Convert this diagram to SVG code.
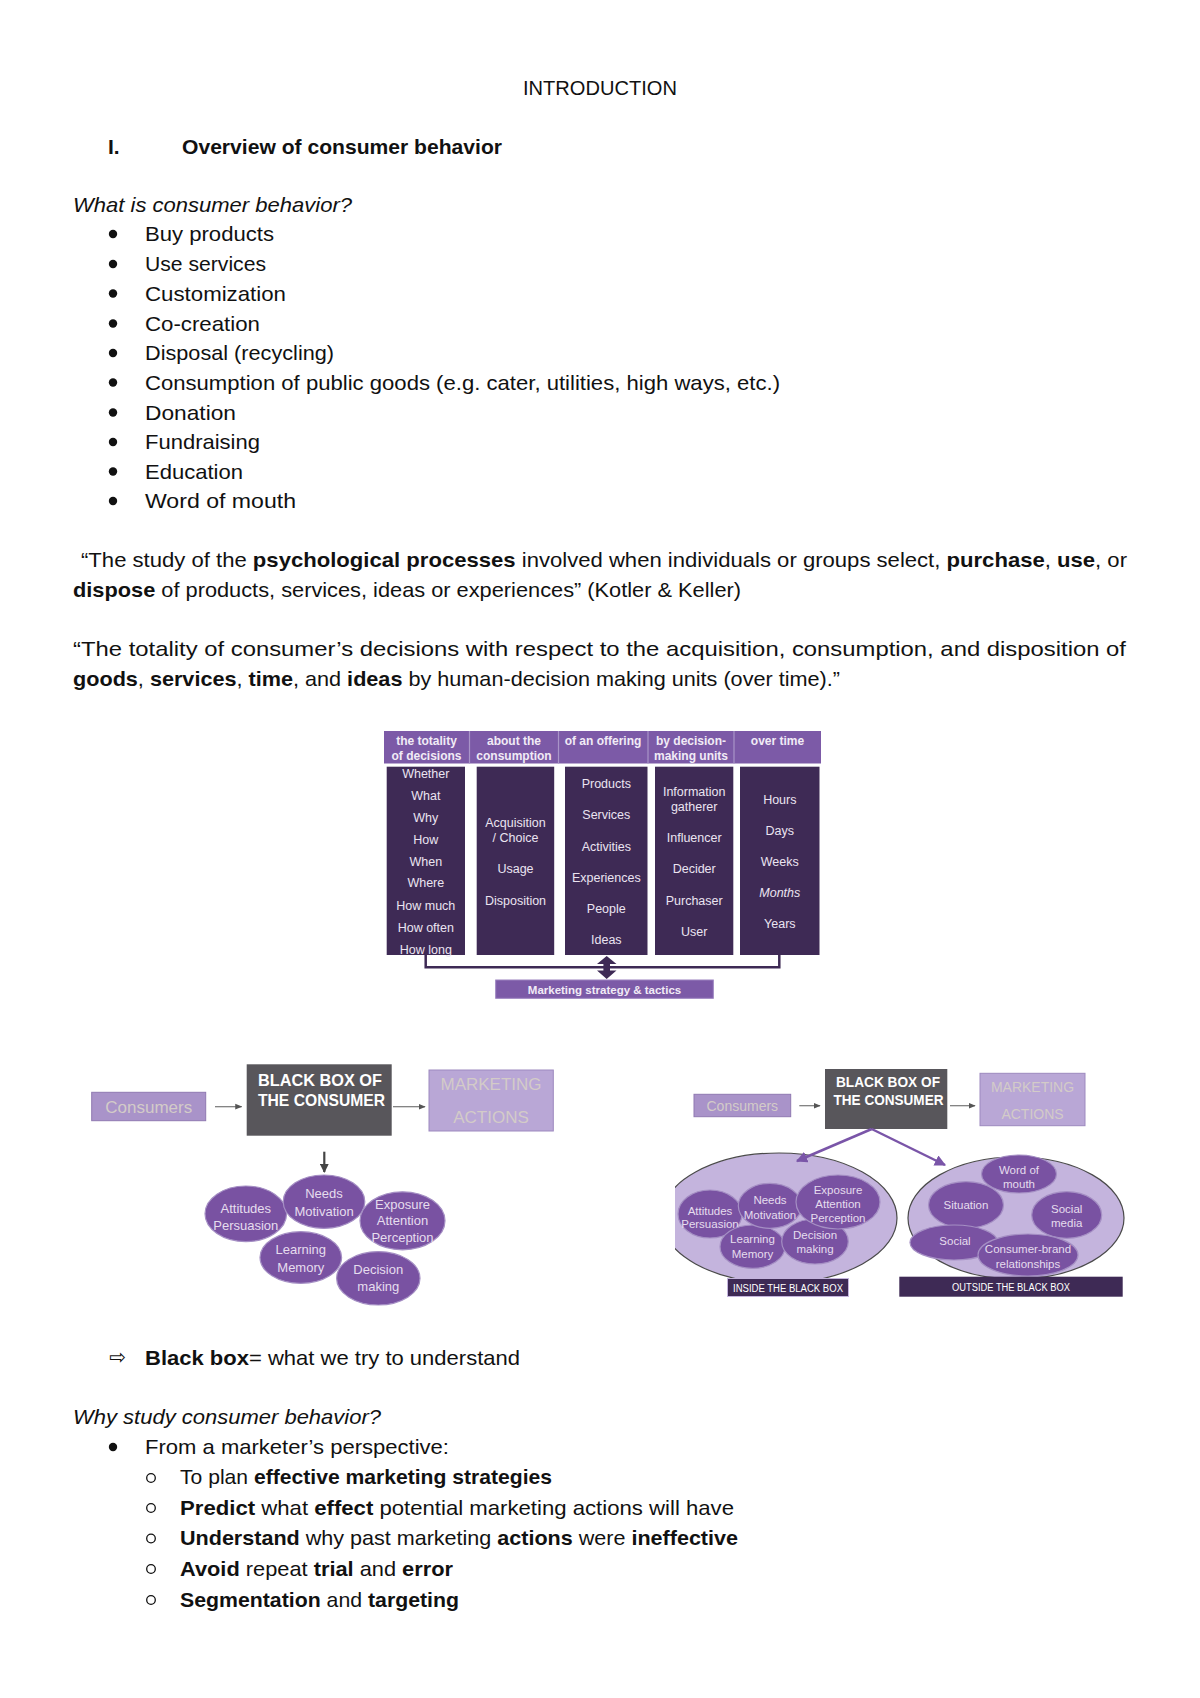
<svg xmlns="http://www.w3.org/2000/svg" width="1200" height="1698" viewBox="0 0 1200 1698">
<style>
.t{font-family:"Liberation Sans",Arial,sans-serif;font-size:21px;fill:#111}
.b{font-weight:bold}
.i{font-style:italic}
.hd{font-family:"Liberation Sans",Arial,sans-serif;font-size:12px;fill:#f1ebf6;text-anchor:middle;font-weight:bold}
.ct{font-family:"Liberation Sans",Arial,sans-serif;font-size:12.5px;fill:#ebe4f1;text-anchor:middle}
.col{fill:#3e2a55}
.hdr{fill:#7c5aa7}
.lav{fill:#a993c9;stroke:#8f79b1;stroke-width:1}
.lav2{fill:#b9a7d6;stroke:#9d89bf;stroke-width:1}
.lt{font-family:"Liberation Sans",Arial,sans-serif;fill:#d3cbc8;text-anchor:middle}
.bb{fill:#58565b}
.bt{font-family:"Liberation Sans",Arial,sans-serif;fill:#fff;font-weight:bold}
.el{fill:#7952a2;stroke:#a58fc4;stroke-width:1.2}
.et{font-family:"Liberation Sans",Arial,sans-serif;fill:#e6ddee;text-anchor:middle}
.big{fill:#c4b4dd;stroke:#4a4a4a;stroke-width:1.2}
.gar{stroke:#777;stroke-width:1.2;fill:none}
</style>
<defs>
<marker id="ga" viewBox="0 0 10 10" refX="9" refY="5" markerWidth="6" markerHeight="6" orient="auto"><path d="M0,1 L10,5 L0,9 z" fill="#555"/></marker>
<marker id="da" viewBox="0 0 10 10" refX="9" refY="5" markerWidth="4" markerHeight="4" orient="auto"><path d="M0,0 L10,5 L0,10 z" fill="#444"/></marker>
<marker id="pa" viewBox="0 0 10 10" refX="9" refY="5" markerWidth="4.5" markerHeight="4.5" orient="auto"><path d="M0,0 L10,5 L0,10 z" fill="#7a55a8"/></marker>
<clipPath id="clipL"><rect x="675" y="1100" width="400" height="220"/></clipPath>
</defs>
<rect width="1200" height="1698" fill="#fff"/>

<g id="heading">
<text class="t" x="523" y="95" textLength="154" lengthAdjust="spacingAndGlyphs">INTRODUCTION</text>
<text class="t b" x="108" y="154">I.</text>
<text class="t b" x="182" y="154" textLength="320" lengthAdjust="spacingAndGlyphs">Overview of consumer behavior</text>
<text class="t i" x="73" y="212" textLength="279" lengthAdjust="spacingAndGlyphs">What is consumer behavior?</text>
</g>

<g id="list1">
<g fill="#111">
<circle cx="113" cy="234" r="4.2"/><circle cx="113" cy="264" r="4.2"/><circle cx="113" cy="293.5" r="4.2"/><circle cx="113" cy="323.5" r="4.2"/><circle cx="113" cy="353" r="4.2"/><circle cx="113" cy="382.5" r="4.2"/><circle cx="113" cy="412.5" r="4.2"/><circle cx="113" cy="442" r="4.2"/><circle cx="113" cy="471.5" r="4.2"/><circle cx="113" cy="501" r="4.2"/>
</g>
<text class="t" x="145" y="241" textLength="129" lengthAdjust="spacingAndGlyphs">Buy products</text>
<text class="t" x="145" y="271" textLength="121" lengthAdjust="spacingAndGlyphs">Use services</text>
<text class="t" x="145" y="300.5" textLength="141" lengthAdjust="spacingAndGlyphs">Customization</text>
<text class="t" x="145" y="330.5" textLength="115" lengthAdjust="spacingAndGlyphs">Co-creation</text>
<text class="t" x="145" y="360" textLength="189" lengthAdjust="spacingAndGlyphs">Disposal (recycling)</text>
<text class="t" x="145" y="389.5" textLength="635" lengthAdjust="spacingAndGlyphs">Consumption of public goods (e.g. cater, utilities, high ways, etc.)</text>
<text class="t" x="145" y="419.5" textLength="91" lengthAdjust="spacingAndGlyphs">Donation</text>
<text class="t" x="145" y="449" textLength="115" lengthAdjust="spacingAndGlyphs">Fundraising</text>
<text class="t" x="145" y="478.5" textLength="98" lengthAdjust="spacingAndGlyphs">Education</text>
<text class="t" x="145" y="508" textLength="151" lengthAdjust="spacingAndGlyphs">Word of mouth</text>
</g>

<g id="definitions">
<text class="t" x="81" y="567" textLength="1046" lengthAdjust="spacingAndGlyphs">“The study of the <tspan class="b">psychological processes</tspan> involved when individuals or groups select, <tspan class="b">purchase</tspan>, <tspan class="b">use</tspan>, or</text>
<text class="t" x="73" y="597" textLength="668" lengthAdjust="spacingAndGlyphs"><tspan class="b">dispose</tspan> of products, services, ideas or experiences” (Kotler &amp; Keller)</text>
<text class="t" x="73" y="656" textLength="1053" lengthAdjust="spacingAndGlyphs">“The totality of consumer’s decisions with respect to the acquisition, consumption, and disposition of</text>
<text class="t" x="73" y="686" textLength="767" lengthAdjust="spacingAndGlyphs"><tspan class="b">goods</tspan>, <tspan class="b">services</tspan>, <tspan class="b">time</tspan>, and <tspan class="b">ideas</tspan> by human-decision making units (over time).”</text>
</g>

<g id="table-diagram">
<g id="header">
<rect class="hdr" x="384" y="731" width="437" height="32.5"/>
<g stroke="#a994c8" stroke-width="1.2">
<line x1="469.5" y1="731" x2="469.5" y2="763.5"/><line x1="558.5" y1="731" x2="558.5" y2="763.5"/><line x1="648" y1="731" x2="648" y2="763.5"/><line x1="734" y1="731" x2="734" y2="763.5"/>
</g>
<text class="hd" x="426.5" y="745">the totality</text><text class="hd" x="426.5" y="760">of decisions</text>
<text class="hd" x="514" y="745">about the</text><text class="hd" x="514" y="760">consumption</text>
<text class="hd" x="603" y="745">of an offering</text>
<text class="hd" x="691" y="745">by decision-</text><text class="hd" x="691" y="760">making units</text>
<text class="hd" x="777.5" y="745">over time</text>
</g>
<g id="col-decisions">
<rect class="col" x="386.7" y="766.7" width="78.3" height="188.3"/>
<text class="ct" x="425.8" y="778">Whether</text><text class="ct" x="425.8" y="799.5">What</text><text class="ct" x="425.8" y="822">Why</text><text class="ct" x="425.8" y="843.5">How</text><text class="ct" x="425.8" y="865.5">When</text><text class="ct" x="425.8" y="887">Where</text><text class="ct" x="425.8" y="909.5">How much</text><text class="ct" x="425.8" y="931.5">How often</text><text class="ct" x="425.8" y="954">How long</text>
</g>
<g id="col-consumption">
<rect class="col" x="476.7" y="766.7" width="77.5" height="188.3"/>
<text class="ct" x="515.5" y="826.5">Acquisition</text><text class="ct" x="515.5" y="841.5">/ Choice</text><text class="ct" x="515.5" y="873">Usage</text><text class="ct" x="515.5" y="904.5">Disposition</text>
</g>
<g id="col-offering">
<rect class="col" x="565" y="766.7" width="82.5" height="188.3"/>
<text class="ct" x="606.3" y="787.5">Products</text><text class="ct" x="606.3" y="819">Services</text><text class="ct" x="606.3" y="850.5">Activities</text><text class="ct" x="606.3" y="881.5">Experiences</text><text class="ct" x="606.3" y="912.5">People</text><text class="ct" x="606.3" y="943.5">Ideas</text>
</g>
<g id="col-units">
<rect class="col" x="655" y="766.7" width="78.3" height="188.3"/>
<text class="ct" x="694.2" y="796">Information</text><text class="ct" x="694.2" y="811">gatherer</text><text class="ct" x="694.2" y="842">Influencer</text><text class="ct" x="694.2" y="873">Decider</text><text class="ct" x="694.2" y="904.5">Purchaser</text><text class="ct" x="694.2" y="935.5">User</text>
</g>
<g id="col-time">
<rect class="col" x="740" y="766.7" width="79.5" height="188.3"/>
<text class="ct" x="779.8" y="803.5">Hours</text><text class="ct" x="779.8" y="835">Days</text><text class="ct" x="779.8" y="865.5">Weeks</text><text class="ct" x="779.8" y="896.5" font-style="italic">Months</text><text class="ct" x="779.8" y="928">Years</text>
</g>
<g id="marketing-strategy">
<rect x="495.7" y="980" width="217.6" height="18.3" fill="#7c5aa7" stroke="#9b82c0" stroke-width="1"/>
<text x="604.5" y="993.5" font-family="Liberation Sans, Arial, sans-serif" font-size="11.5" font-weight="bold" fill="#f1ebf6" text-anchor="middle">Marketing strategy &amp; tactics</text>
</g>
<g id="table-connectors">
<polyline points="425.7,955 425.7,967.3 779.3,967.3 779.3,955" fill="none" stroke="#3e2a55" stroke-width="2.5"/>
<polygon points="606.7,956 616.5,964 610,964 610,970.5 616.5,970.5 606.7,979 597,970.5 603.4,970.5 603.4,964 597,964" fill="#3e2a55"/>
</g>
</g>

<g id="blackbox-left">
<g id="bl-consumers"><rect class="lav" x="91.7" y="1092.3" width="114" height="28.4"/><text class="lt" x="148.7" y="1112.5" font-size="17">Consumers</text></g>
<g id="bl-box"><rect class="bb" x="246.7" y="1064.3" width="145" height="71.4"/><text class="bt" x="258" y="1086" font-size="16.5" textLength="124" lengthAdjust="spacingAndGlyphs">BLACK BOX OF</text><text class="bt" x="258" y="1106" font-size="16.5" textLength="127" lengthAdjust="spacingAndGlyphs">THE CONSUMER</text></g>
<g id="bl-actions"><rect class="lav2" x="429" y="1070" width="124.3" height="61"/><text class="lt" x="491" y="1090" font-size="17">MARKETING</text><text class="lt" x="491" y="1122.5" font-size="17">ACTIONS</text></g>
<g id="bl-attitudes"><ellipse class="el" cx="245.8" cy="1213.8" rx="40.8" ry="27.8"/><text class="et" x="245.8" y="1213" font-size="13">Attitudes</text><text class="et" x="245.8" y="1229.5" font-size="13">Persuasion</text></g>
<g id="bl-needs"><ellipse class="el" cx="324" cy="1201.7" rx="40.8" ry="26.7"/><text class="et" x="324" y="1197.5" font-size="13">Needs</text><text class="et" x="324" y="1216" font-size="13">Motivation</text></g>
<g id="bl-exposure"><ellipse class="el" cx="402.5" cy="1220.8" rx="42.5" ry="29"/><text class="et" x="402.5" y="1208.5" font-size="13">Exposure</text><text class="et" x="402.5" y="1225" font-size="13">Attention</text><text class="et" x="402.5" y="1241.5" font-size="13">Perception</text></g>
<g id="bl-learning"><ellipse class="el" cx="300.8" cy="1257.5" rx="40.8" ry="25.8"/><text class="et" x="300.8" y="1253.5" font-size="13">Learning</text><text class="et" x="300.8" y="1271.5" font-size="13">Memory</text></g>
<g id="bl-decision"><ellipse class="el" cx="378.3" cy="1278.3" rx="41.7" ry="26.7"/><text class="et" x="378.3" y="1273.5" font-size="13">Decision</text><text class="et" x="378.3" y="1290.5" font-size="13">making</text></g>
</g>

<g id="blackbox-right">
<g id="br-consumers"><rect class="lav" x="694" y="1094.3" width="96.7" height="22.4"/><text class="lt" x="742.3" y="1110.5" font-size="14">Consumers</text></g>
<g id="br-box"><rect class="bb" x="825" y="1069" width="122.3" height="60"/><text class="bt" x="836" y="1087" font-size="14" textLength="104" lengthAdjust="spacingAndGlyphs">BLACK BOX OF</text><text class="bt" x="833.5" y="1105" font-size="14" textLength="110" lengthAdjust="spacingAndGlyphs">THE CONSUMER</text></g>
<g id="br-actions"><rect class="lav2" x="980" y="1073.3" width="105" height="52.4"/><text class="lt" x="1032.5" y="1091.5" font-size="14">MARKETING</text><text class="lt" x="1032.5" y="1119" font-size="14">ACTIONS</text></g>
<g id="br-inside">
<ellipse class="big" cx="779" cy="1218" rx="118" ry="65" clip-path="url(#clipL)"/>
<g id="br-attitudes"><ellipse class="el" cx="710" cy="1214" rx="32" ry="24"/><text class="et" x="710" y="1215" font-size="11.5">Attitudes</text><text class="et" x="710" y="1227.5" font-size="11.5">Persuasion</text></g>
<g id="br-learning"><ellipse class="el" cx="752.5" cy="1246.7" rx="32.5" ry="21.7"/><text class="et" x="752.5" y="1243" font-size="11.5">Learning</text><text class="et" x="752.5" y="1257.5" font-size="11.5">Memory</text></g>
<g id="br-needs"><ellipse class="el" cx="770" cy="1205.8" rx="31.7" ry="22.5"/><text class="et" x="770" y="1204" font-size="11.5">Needs</text><text class="et" x="770" y="1218.5" font-size="11.5">Motivation</text></g>
<g id="br-decision"><ellipse class="el" cx="815" cy="1241.5" rx="33.3" ry="22.5"/><text class="et" x="815" y="1238.5" font-size="11.5">Decision</text><text class="et" x="815" y="1253" font-size="11.5">making</text></g>
<g id="br-exposure"><ellipse class="el" cx="838" cy="1202" rx="42" ry="27"/><text class="et" x="838" y="1194" font-size="11.5">Exposure</text><text class="et" x="838" y="1207.5" font-size="11.5">Attention</text><text class="et" x="838" y="1222" font-size="11.5">Perception</text></g>
<g id="br-inside-label"><rect x="727.5" y="1278.5" width="121" height="18" fill="#3e2a55" stroke="#c4b4dd" stroke-width="1"/><text x="788" y="1292" font-family="Liberation Sans, Arial, sans-serif" font-size="10" fill="#fff" text-anchor="middle" textLength="110" lengthAdjust="spacingAndGlyphs">INSIDE THE BLACK BOX</text></g>
</g>
<g id="br-outside">
<ellipse class="big" cx="1016" cy="1218" rx="108" ry="61"/>
<g id="br-wom"><ellipse class="el" cx="1019" cy="1174" rx="37.5" ry="19"/><text class="et" x="1019" y="1173.5" font-size="11.5">Word of</text><text class="et" x="1019" y="1187.5" font-size="11.5">mouth</text></g>
<g id="br-situation"><ellipse class="el" cx="966" cy="1205" rx="37.5" ry="23.3"/><text class="et" x="966" y="1209" font-size="11.5">Situation</text></g>
<g id="br-socialmedia"><ellipse class="el" cx="1066.7" cy="1215" rx="35" ry="23.3"/><text class="et" x="1066.7" y="1213" font-size="11.5">Social</text><text class="et" x="1066.7" y="1226.5" font-size="11.5">media</text></g>
<g id="br-social"><ellipse class="el" cx="954" cy="1242.5" rx="44" ry="17.5"/><text class="et" x="955" y="1244.5" font-size="11.5">Social</text></g>
<g id="br-cbr"><ellipse class="el" cx="1028" cy="1255" rx="50" ry="21"/><text class="et" x="1028" y="1252.5" font-size="11.5">Consumer-brand</text><text class="et" x="1028" y="1267.5" font-size="11.5">relationships</text></g>
<g id="br-outside-label"><rect x="899.3" y="1276.7" width="223.4" height="20" fill="#3e2a55"/><text x="1011" y="1291" font-family="Liberation Sans, Arial, sans-serif" font-size="10" fill="#fff" text-anchor="middle" textLength="118" lengthAdjust="spacingAndGlyphs">OUTSIDE THE BLACK BOX</text></g>
</g>
</g>

<g id="connectors">
<line class="gar" x1="215" y1="1106.7" x2="241.7" y2="1106.7" marker-end="url(#ga)"/>
<line class="gar" x1="393" y1="1106.7" x2="425" y2="1106.7" marker-end="url(#ga)"/>
<line x1="324.3" y1="1151.7" x2="324.3" y2="1172" stroke="#444" stroke-width="2.2" marker-end="url(#da)"/>
<line class="gar" x1="799.3" y1="1105.7" x2="820" y2="1105.7" marker-end="url(#ga)"/>
<line class="gar" x1="950" y1="1105.7" x2="975" y2="1105.7" marker-end="url(#ga)"/>
<line x1="871.7" y1="1129" x2="797" y2="1161" stroke="#7a55a8" stroke-width="2.5" marker-end="url(#pa)"/>
<line x1="871.7" y1="1129" x2="945" y2="1165" stroke="#7a55a8" stroke-width="2.5" marker-end="url(#pa)"/>
</g>

<g id="bottom-text">
<text x="109" y="1364" font-family="DejaVu Sans, sans-serif" font-size="20" fill="#111">⇨</text>
<text class="t" x="145" y="1365" textLength="375" lengthAdjust="spacingAndGlyphs"><tspan class="b">Black box</tspan>= what we try to understand</text>
<text class="t i" x="73" y="1424" textLength="308" lengthAdjust="spacingAndGlyphs">Why study consumer behavior?</text>
<circle cx="113" cy="1447" r="4.2" fill="#111"/>
<text class="t" x="145" y="1454" textLength="304" lengthAdjust="spacingAndGlyphs">From a marketer’s perspective:</text>
<g fill="none" stroke="#111" stroke-width="1.3">
<circle cx="151" cy="1478" r="4.3"/><circle cx="151" cy="1508" r="4.3"/><circle cx="151" cy="1538.5" r="4.3"/><circle cx="151" cy="1569" r="4.3"/><circle cx="151" cy="1600" r="4.3"/>
</g>
<text class="t" x="180" y="1484" textLength="372" lengthAdjust="spacingAndGlyphs">To plan <tspan class="b">effective marketing strategies</tspan></text>
<text class="t" x="180" y="1515" textLength="554" lengthAdjust="spacingAndGlyphs"><tspan class="b">Predict</tspan> what <tspan class="b">effect</tspan> potential marketing actions will have</text>
<text class="t" x="180" y="1545" textLength="558" lengthAdjust="spacingAndGlyphs"><tspan class="b">Understand</tspan> why past marketing <tspan class="b">actions</tspan> were <tspan class="b">ineffective</tspan></text>
<text class="t" x="180" y="1576" textLength="273" lengthAdjust="spacingAndGlyphs"><tspan class="b">Avoid</tspan> repeat <tspan class="b">trial</tspan> and <tspan class="b">error</tspan></text>
<text class="t" x="180" y="1607" textLength="279" lengthAdjust="spacingAndGlyphs"><tspan class="b">Segmentation</tspan> and <tspan class="b">targeting</tspan></text>
</g>
</svg>
